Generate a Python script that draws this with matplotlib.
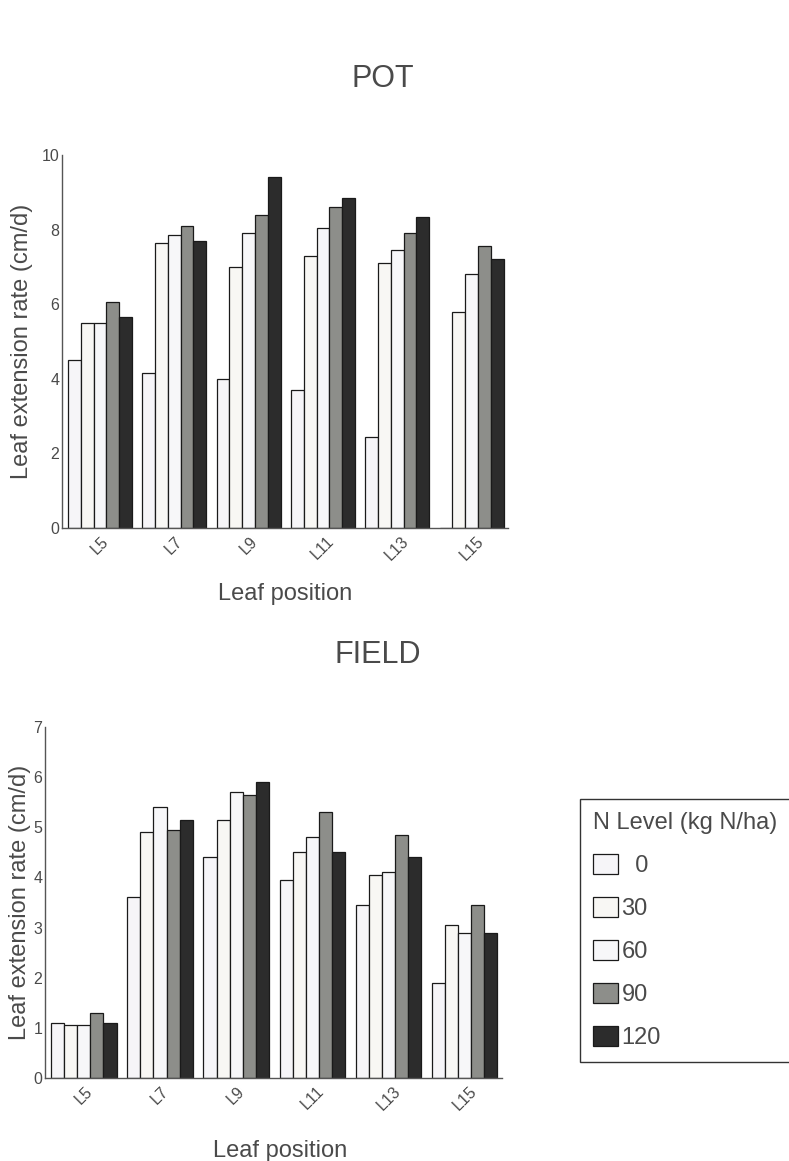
import numpy as np
import matplotlib
matplotlib.use('Agg')
import matplotlib.pyplot as plt

plt.rcParams['font.family'] = ['Liberation Sans', 'DejaVu Sans']

# Leaf positions and nitrogen levels
leaves = ['L5', 'L7', 'L9', 'L11', 'L13', 'L15']
n_levels = ['  0', '30', '60', '90', '120']

# Leaf extension rate (cm/d), one list per N level
pot_0 = [4.5, 4.15, 4.0, 3.7, 2.45, 0.0]
pot_30 = [5.5, 7.65, 7.0, 7.3, 7.1, 5.8]
pot_60 = [5.5, 7.85, 7.9, 8.05, 7.45, 6.8]
pot_90 = [6.05, 8.1, 8.4, 8.6, 7.9, 7.55]
pot_120 = [5.65, 7.7, 9.4, 8.85, 8.35, 7.2]

field_0 = [1.1, 3.6, 4.4, 3.95, 3.45, 1.9]
field_30 = [1.05, 4.9, 5.15, 4.5, 4.05, 3.05]
field_60 = [1.05, 5.4, 5.7, 4.8, 4.1, 2.9]
field_90 = [1.3, 4.95, 5.65, 5.3, 4.85, 3.45]
field_120 = [1.1, 5.15, 5.9, 4.5, 4.4, 2.9]

colors = ['#f6f5f8', '#f8f7f4', '#f7f7f9', '#8d8e8a', '#2c2c2c']
text_col = '#4a4a4a'

W, H = 789, 1161
fig = plt.figure(figsize=(W / 100, H / 100), dpi=100)


def draw_panel(ax, series, ymax, ylab_x, xlab_xy):
    x = np.arange(len(leaves))
    w = 0.172
    bars = []
    for j, vals in enumerate(series):
        b = ax.bar(x + (j - 2) * w, vals, w, color=colors[j],
                   edgecolor='#1a1a1a', linewidth=0.9, label=n_levels[j])
        bars.append(b)
    ax.set_xlim(-0.51, 5.49)
    ax.set_ylim(0, ymax)
    ax.set_yticks(range(0, ymax + 1, 2 if ymax == 10 else 1))
    ax.set_xticks(x)
    ax.set_xticklabels(leaves, rotation=45, ha='center', va='top')
    ax.tick_params(length=0, labelsize=11.5, colors=text_col)
    ax.tick_params(axis='y', pad=2)
    ax.tick_params(axis='x', pad=4)
    for s in ['top', 'right']:
        ax.spines[s].set_visible(False)
    for s in ['left', 'bottom']:
        ax.spines[s].set_color('#555555')
        ax.spines[s].set_linewidth(1.0)
    ax.set_ylabel('Leaf extension rate (cm/d)', fontsize=17, color=text_col)
    ax.yaxis.set_label_coords(ylab_x, 0.5)
    ax.set_xlabel('Leaf position', fontsize=17, color=text_col)
    ax.xaxis.set_label_coords(*xlab_xy)
    return bars


ax1 = fig.add_axes([62 / W, 1 - 528 / H, 446 / W, 373 / H])
draw_panel(ax1, [pot_0, pot_30, pot_60, pot_90, pot_120], 10,
           -0.065, (0.5, -0.147))

ax2 = fig.add_axes([45 / W, 1 - 1078 / H, 457 / W, 351 / H])
bars = draw_panel(ax2, [field_0, field_30, field_60, field_90, field_120],
                  7, -0.03, (0.514, -0.178))

fig.text(383 / W, 1 - 79 / H, 'POT', fontsize=22, color=text_col,
         ha='center', va='center')
fig.text(378 / W, 1 - 655 / H, 'FIELD', fontsize=22, color=text_col,
         ha='center', va='center')

leg = fig.legend(handles=bars, labels=n_levels, title='N Level (kg N/ha)',
                 loc='upper left', bbox_to_anchor=(580 / W, 1 - 799 / H),
                 fontsize=17, title_fontsize=17, alignment='left',
                 handlelength=1.06, handleheight=0.93, handletextpad=0.15,
                 labelspacing=0.84, borderpad=0.55, borderaxespad=0,
                 fancybox=False, edgecolor='#333333', framealpha=1)
leg.get_frame().set_linewidth(1.0)
for t in leg.get_texts():
    t.set_color(text_col)
leg.get_title().set_color(text_col)

fig.savefig('out.png', dpi=100)
